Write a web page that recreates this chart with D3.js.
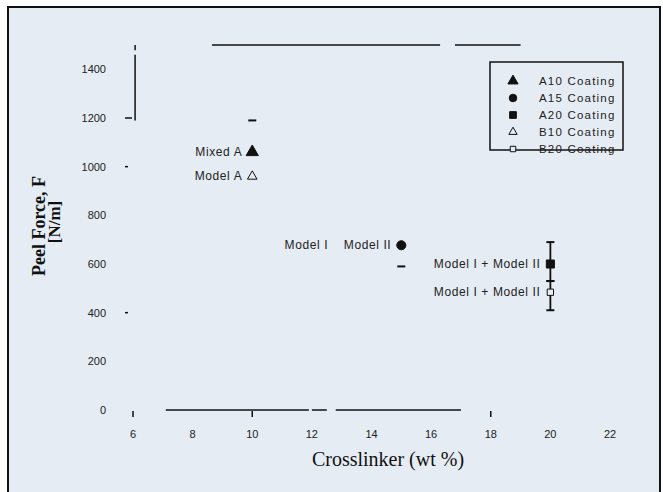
<!DOCTYPE html>
<html><head><meta charset="utf-8">
<script src="https://cdn.jsdelivr.net/npm/d3@7"></script>
<style>body{margin:0;background:#fff}svg{display:block}</style>
</head><body>
<script>
// ---- data ----
const xTicks = [6, 8, 10, 12, 14, 16, 18, 20, 22];
const yTicks = [0, 200, 400, 600, 800, 1000, 1200, 1400];
const seriesNames = ["A10 Coating", "A15 Coating", "A20 Coating", "B10 Coating", "B20 Coating"];
const seriesX = [10, 15, 20, 10, 20];
const seriesY = [1060, 677, 600, 960, 484];
const errHigh = [1190, null, 690, null, 530];
const errLow = [null, 590, 530, null, 410];
const seriesSymbols = ["triangle", "circle", "square", "triangle", "square"];
const seriesFilled = [true, true, true, false, false];
const pointLabels = ["Mixed A", "Model I    Model II", "Model I + Model II", "Model A", "Model I + Model II"];

const W = 663, H = 492;
const svg = d3.select("body").append("svg").attr("width", W).attr("height", H);
svg.append("rect").attr("x", 8).attr("y", 7).attr("width", 652).attr("height", 495)
  .attr("fill", "#e6ecf3").attr("stroke", "#111").attr("stroke-width", 2);

const x = d3.scaleLinear().domain([6, 22]).range([133, 610]);
const y = d3.scaleLinear().domain([0, 1500]).range([410, 45]);

const g = svg.append("g");
const line = (x1, y1, x2, y2, w) => g.append("line")
  .attr("x1", x(x1)).attr("y1", y(y1)).attr("x2", x(x2)).attr("y2", y(y2))
  .attr("stroke", "#111").attr("stroke-width", w || 1.5);

// frame (as it appears)
line(6.07, 1190, 6.07, 1460, 1.5);
line(6.07, 1478, 6.07, 1500, 1.5);
line(8.65, 1500, 16.3, 1500, 1.5);
line(16.8, 1500, 19.0, 1500, 1.5);
line(7.1, 0, 11.9, 0, 1.5);
line(12.0, 0, 12.5, 0, 1.5);
line(12.8, 0, 17.0, 0, 1.5);

// ticks
[6, 10, 18].forEach(v => g.append("line").attr("x1", x(v)).attr("x2", x(v))
  .attr("y1", y(0) + 1).attr("y2", y(0) + 7).attr("stroke", "#111").attr("stroke-width", 1.5));
[1200, 1000, 400].forEach(v => g.append("line").attr("x1", x(6) - 8).attr("x2", x(6) - (v === 1200 ? 1 : 5))
  .attr("y1", y(v)).attr("y2", y(v)).attr("stroke", "#111").attr("stroke-width", 1.5));

// tick labels
g.selectAll(".xt").data(xTicks).enter().append("text")
  .attr("x", d => x(d)).attr("y", y(0) + 28).attr("text-anchor", "middle")
  .attr("font-family", "Liberation Sans, Arial, sans-serif").attr("font-size", 11).attr("fill", "#222")
  .text(d => d);
g.selectAll(".yt").data(yTicks).enter().append("text")
  .attr("x", x(6) - 27).attr("y", d => y(d) + 4).attr("text-anchor", "end")
  .attr("font-family", "Liberation Sans, Arial, sans-serif").attr("font-size", 11).attr("fill", "#222")
  .text(d => d);

// axis titles
svg.append("text").attr("x", 388).attr("y", 466).attr("text-anchor", "middle")
  .attr("font-family", "Liberation Serif, Times New Roman, serif").attr("font-size", 20).attr("fill", "#111")
  .text("Crosslinker (wt %)");
svg.append("text").attr("transform", "translate(45,226) rotate(-90)").attr("text-anchor", "middle")
  .attr("font-family", "Liberation Serif, Times New Roman, serif").attr("font-weight", "bold")
  .attr("font-size", 18).attr("fill", "#111").text("Peel Force, F");
svg.append("text").attr("transform", "translate(60,222) rotate(-90)").attr("text-anchor", "middle")
  .attr("font-family", "Liberation Serif, Times New Roman, serif").attr("font-weight", "bold")
  .attr("font-size", 17).attr("fill", "#111").text("[N/m]");

// symbols
const symType = s => s === "triangle" ? d3.symbolTriangle : s === "circle" ? d3.symbolCircle : d3.symbolSquare;
const sym = (s, size) => d3.symbol().type(symType(s)).size(size)();

seriesNames.forEach((n, i) => {
  const cx = x(seriesX[i]), cy = y(seriesY[i]);
  const hi = errHigh[i], lo = errLow[i];
  if (hi !== null && lo !== null) {
    g.append("line").attr("x1", cx).attr("x2", cx).attr("y1", y(hi)).attr("y2", y(lo))
      .attr("stroke", "#111").attr("stroke-width", 1.8);
  }
  [hi, lo].forEach(v => { if (v !== null)
    g.append("line").attr("x1", cx - 4).attr("x2", cx + 4).attr("y1", y(v)).attr("y2", y(v))
      .attr("stroke", "#111").attr("stroke-width", 2); });
  g.append("path").attr("d", sym(seriesSymbols[i], seriesFilled[i] ? 65 : 40)).attr("transform", `translate(${cx},${cy})`)
    .attr("fill", seriesFilled[i] ? "#111" : "#e6ecf3").attr("stroke", "#111").attr("stroke-width", 1);
  g.append("text").attr("x", cx - 10).attr("y", cy + 4).attr("text-anchor", "end")
    .attr("font-family", "Liberation Sans, Arial, sans-serif").attr("font-size", 12).attr("fill", "#222")
    .attr("letter-spacing", 0.6).style("white-space", "pre")
    .text(pointLabels[i]);
});

// legend
const lg = svg.append("g");
lg.append("rect").attr("x", 490).attr("y", 62).attr("width", 133).attr("height", 88)
  .attr("fill", "none").attr("stroke", "#111").attr("stroke-width", 1.5);
seriesNames.forEach((n, i) => {
  const ly = 81 + i * 17;
  lg.append("path").attr("d", sym(seriesSymbols[i], seriesFilled[i] ? 45 : 30)).attr("transform", `translate(513,${ly})`)
    .attr("fill", seriesFilled[i] ? "#111" : "#e6ecf3").attr("stroke", "#111").attr("stroke-width", 1);
  lg.append("text").attr("x", 539).attr("y", ly + 4)
    .attr("font-family", "Liberation Sans, Arial, sans-serif").attr("font-size", 11.5).attr("fill", "#222")
    .attr("letter-spacing", 1.2)
    .text(n);
});
</script>
</body></html>
